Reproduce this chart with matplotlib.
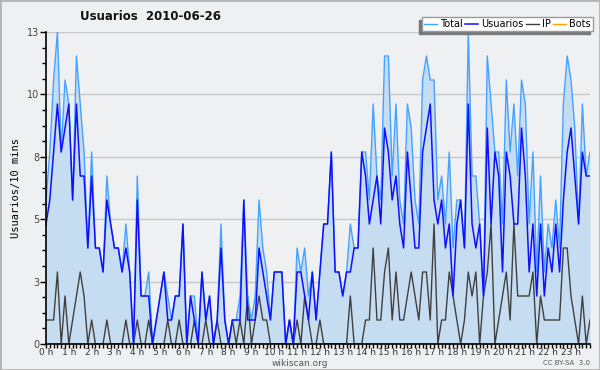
import matplotlib
matplotlib.use("Agg")
import matplotlib.pyplot as plt
import numpy as np

total = [6, 8, 11, 13, 8, 11, 10, 6, 12, 10, 8, 4, 8, 4, 4, 3, 7, 5, 4, 4, 3, 5, 3, 0,
         7, 2, 2, 3, 0, 1, 2, 3, 2, 1, 2, 2, 5, 0, 2, 2, 0, 3, 1, 2, 0, 1, 5, 1,
         0, 1, 1, 2, 6, 2, 1, 2, 6, 4, 3, 1, 3, 3, 3, 0, 1, 0, 4, 3, 4, 2, 3, 1,
         3, 5, 5, 8, 3, 3, 2, 3, 5, 4, 4, 8, 8, 6, 10, 7, 6, 12, 12, 7, 10, 6, 5, 10,
         9, 6, 5, 11, 12, 11, 11, 6, 7, 5, 8, 4, 6, 6, 4, 13, 7, 7, 5, 2, 12, 10, 8, 8,
         5, 11, 8, 10, 7, 11, 10, 5, 8, 3, 7, 3, 5, 4, 6, 4, 10, 12, 11, 9, 5, 10, 7, 8]
usuarios = [5, 6, 8, 10, 8, 9, 10, 6, 10, 7, 7, 4, 7, 4, 4, 3, 6, 5, 4, 4, 3, 4, 3, 0,
            6, 2, 2, 2, 0, 1, 2, 3, 1, 1, 2, 2, 5, 0, 2, 1, 0, 3, 1, 2, 0, 1, 4, 1,
            0, 1, 1, 1, 6, 1, 1, 1, 4, 3, 2, 1, 3, 3, 3, 0, 1, 0, 3, 3, 2, 1, 3, 1,
            3, 5, 5, 8, 3, 3, 2, 3, 3, 4, 4, 8, 7, 5, 6, 7, 5, 9, 8, 6, 7, 5, 4, 8,
            6, 4, 4, 8, 9, 10, 6, 5, 6, 4, 5, 2, 5, 6, 4, 10, 5, 4, 5, 2, 9, 5, 8, 7,
            3, 8, 7, 5, 5, 9, 7, 3, 5, 2, 5, 2, 4, 3, 5, 3, 6, 8, 9, 7, 5, 8, 7, 7]
ip = [1, 1, 1, 3, 0, 2, 0, 1, 2, 3, 2, 0, 1, 0, 0, 0, 1, 0, 0, 0, 0, 1, 0, 0,
      1, 0, 0, 1, 0, 0, 0, 0, 1, 0, 0, 1, 0, 0, 0, 1, 0, 0, 1, 0, 0, 1, 0, 0,
      0, 1, 0, 1, 0, 2, 0, 1, 2, 1, 1, 0, 0, 0, 0, 0, 1, 0, 1, 0, 2, 1, 0, 0,
      1, 0, 0, 0, 0, 0, 0, 0, 2, 0, 0, 0, 1, 1, 4, 1, 1, 3, 4, 1, 3, 1, 1, 2,
      3, 2, 1, 3, 3, 1, 5, 0, 1, 1, 3, 2, 1, 0, 1, 3, 2, 3, 0, 2, 3, 5, 0, 1,
      2, 3, 1, 5, 2, 2, 2, 2, 3, 0, 2, 1, 1, 1, 1, 1, 4, 4, 2, 1, 0, 2, 0, 1]
bots = [0] * 144

hour_labels = [f"{h} h" for h in range(24)]
ytick_vals = list(np.linspace(0, 13, 6))
ytick_labels = ["0", "3", "5", "8", "10", "13"]

BG = "#eff0f2"
C_TOTAL = "#45a3ff"
C_FILL = "#c6dcf0"
C_USU = "#1010ff"
C_IP = "#404040"
C_BOTS = "#ffa500"

fig = plt.figure(figsize=(6, 3.7), dpi=100, facecolor=BG)
ax = fig.add_axes([46 / 600, 1 - 344 / 370, 544 / 600, 312 / 370])
ax.set_facecolor(BG)

x = np.arange(len(total))
ax.fill_between(x, 0, total, color=C_FILL, lw=0, zorder=1)
ax.plot(x, bots, color=C_BOTS, lw=1, zorder=2, label="Bots")
ax.plot(x, ip, color=C_IP, lw=1, zorder=3, label="IP")
ax.plot(x, total, color=C_TOTAL, lw=1, zorder=4, label="Total")
ax.plot(x, usuarios, color=C_USU, lw=1.1, zorder=5, label="Usuarios")

ax.set_xlim(0, len(total) - 1)
ax.set_ylim(0, 13)
for v in ytick_vals[1:]:
    ax.axhline(v, color="#c8c8c8", lw=1, zorder=0.5)

ax.set_yticks(ytick_vals)
ax.set_yticklabels(ytick_labels)
ax.set_yticks(np.arange(0, 13.01, 0.65), minor=True)
ax.set_xticks(np.arange(0, 144, 6))
ax.set_xticklabels(hour_labels)
ax.set_xticks(np.arange(0, 144, 1), minor=True)
ax.tick_params(axis="both", which="both", direction="out", color="black", width=1)
ax.tick_params(axis="y", which="major", length=4, labelsize=7, labelcolor="#444444", pad=1)
ax.tick_params(axis="y", which="minor", length=3)
ax.tick_params(axis="x", which="major", length=3, labelsize=6.5, labelcolor="#333333", pad=0)
ax.tick_params(axis="x", which="minor", length=3)
for s in ["top", "right"]:
    ax.spines[s].set_visible(False)
for s in ["left", "bottom"]:
    ax.spines[s].set_color("black")
    ax.spines[s].set_linewidth(1.2)
    ax.spines[s].set_zorder(6)

ax.set_ylabel("Usuarios/10 mins", family="DejaVu Sans Mono", fontsize=7.5, labelpad=4)

fig.text(151 / 600, 1 - 16 / 370, "Usuarios  2010-06-26", ha="center", va="center",
         fontsize=8.5, fontweight="bold", color="#111111")

handles, labels = ax.get_legend_handles_labels()
order = [labels.index(n) for n in ["Total", "Usuarios", "IP", "Bots"]]
leg = fig.legend([handles[i] for i in order], [labels[i] for i in order],
                 loc="upper right", bbox_to_anchor=(593 / 600, 1 - 17 / 370),
                 ncol=4, fontsize=7, handlelength=1.3, handletextpad=0.35,
                 columnspacing=0.25, borderpad=0.2, borderaxespad=0,
                 fancybox=False, edgecolor="#9a9a9a", framealpha=1,
                 shadow={"ox": -2.5, "oy": -2.5, "color": "#777777", "alpha": 1})
leg.get_frame().set_linewidth(1)
leg.set_zorder(10)

fig.text(300 / 600, 1 - 363 / 370, "wikiscan.org", ha="center", va="center",
         fontsize=6.5, color="#555555")
fig.text(590 / 600, 1 - 363 / 370, "CC BY-SA  3.0", ha="right", va="center",
         fontsize=5, color="#555555")

border = plt.Rectangle((0, 0), 1, 1, transform=fig.transFigure, fill=False,
                       edgecolor="#b4b4b4", lw=2)
fig.patches.append(border)

fig.savefig("out.png", dpi=100, facecolor=BG)
